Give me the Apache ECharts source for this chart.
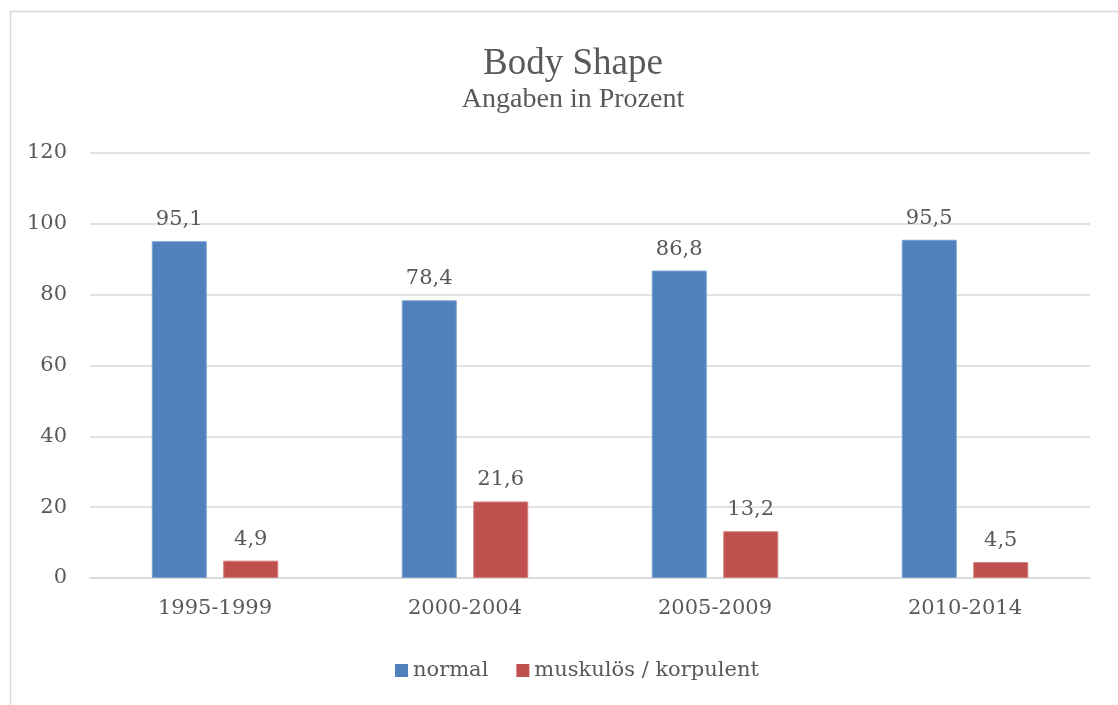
<!DOCTYPE html>
<html>
<head>
<meta charset="utf-8">
<script src="https://cdn.jsdelivr.net/npm/echarts@6/dist/echarts.min.js"></script>
<style>
  html, body { margin: 0; padding: 0; background: #fff; }
  #chart { width: 1118px; height: 705px; }
</style>
</head>
<body>
<div id="chart"></div>
<script>
const categories = ['1995-1999', '2000-2004', '2005-2009', '2010-2014']
const normalValues = [95.1, 78.4, 86.8, 95.5]
const muskulosValues = [4.9, 21.6, 13.2, 4.5]
const seriesNames = ['normal', 'muskulös / korpulent']

const labelFont = 'DejaVu Serif'
const titleFont = '"Liberation Serif", "Times New Roman", serif'
const textColor = '#595959'

const chart = echarts.init(document.getElementById('chart'), null, { renderer: 'canvas' })

function fmt(v) {
  return v.toFixed(1).replace('.', ',')
}

const valueLabel = {
  show: true,
  position: 'top',
  distance: 11,
  fontFamily: labelFont,
  fontSize: 21,
  color: textColor,
  formatter: p => fmt(p.value)
}

chart.setOption({
  animation: false,
  graphic: [{
    type: 'rect',
    silent: true,
    shape: { x: 10.5, y: 11.5, width: 1200, height: 800 },
    style: { fill: 'none', stroke: '#d9d9d9', lineWidth: 1.5 }
  }],
  title: {
    text: 'Body Shape',
    subtext: 'Angaben in Prozent',
    left: 568,
    top: 41,
    textAlign: 'center',
    itemGap: 3,
    textStyle: { fontFamily: titleFont, fontSize: 37, fontWeight: 'normal', color: textColor },
    subtextStyle: { fontFamily: titleFont, fontSize: 28, color: textColor }
  },
  legend: {
    data: seriesNames,
    left: 390,
    top: 655,
    itemWidth: 13,
    itemHeight: 13,
    itemGap: 28,
    icon: 'rect',
    itemStyle: { borderWidth: 0 },
    textStyle: { fontFamily: labelFont, fontSize: 21, color: textColor }
  },
  grid: { left: 90, right: 28, top: 153, bottom: 127 },
  xAxis: {
    type: 'category',
    data: categories,
    axisLine: { lineStyle: { color: '#d9d9d9', width: 1.5 } },
    axisTick: { show: false },
    axisLabel: { fontFamily: labelFont, fontSize: 21, color: textColor, margin: 20 }
  },
  yAxis: {
    type: 'value',
    min: 0,
    max: 120,
    interval: 20,
    axisLine: { show: false },
    axisTick: { show: false },
    axisLabel: { fontFamily: labelFont, fontSize: 21, color: textColor, margin: 23 },
    splitLine: { lineStyle: { color: '#d9d9d9', width: 1.5 } }
  },
  series: [{
    name: seriesNames[0],
    type: 'bar',
    data: normalValues,
    barWidth: 55,
    barGap: '30%',
    itemStyle: { color: '#4F81BD', borderColor: '#7ea2d0', borderWidth: 1 },
    label: valueLabel
  }, {
    name: seriesNames[1],
    type: 'bar',
    data: muskulosValues,
    barWidth: 55,
    barGap: '30%',
    itemStyle: { color: '#C0504D', borderColor: '#d17f7d', borderWidth: 1 },
    label: valueLabel
  }]
})
</script>
</body>
</html>
